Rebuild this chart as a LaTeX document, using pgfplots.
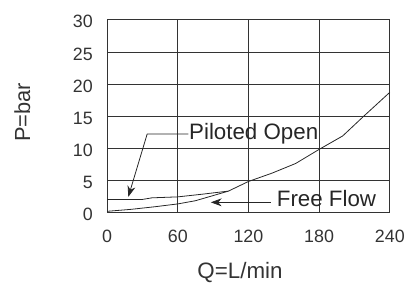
\documentclass[border=0pt]{standalone}
\usepackage{fontspec}
\setmainfont{Liberation Sans}
\usepackage{pgfplots}
\pgfplotsset{compat=1.18}
\usetikzlibrary{arrows.meta}
\begin{document}
\begin{tikzpicture}
\begin{axis}[
  scale only axis,
  width=285pt, height=194pt,
  at={(0pt,0pt)}, anchor=south west,
  xmin=0, xmax=240, ymin=0, ymax=30,
  xtick={0,60,120,180,240}, ytick={0,5,10,15,20,25,30},
  grid=major,
  major grid style={black!80, line width=0.7pt},
  axis line style={black!80, line width=0.8pt},
  tick style={draw=none},
  /pgf/number format/assume math mode=true,
  ticklabel style={font=\fontsize{18}{20}\selectfont, text=black!80},
  xticklabel style={anchor=center, yshift=-24pt},
  yticklabel style={anchor=east, xshift=-11pt, yshift=-2pt},
  xlabel={Q=L/min}, ylabel={P=bar},
  xlabel style={at={(axis description cs:0.47,-0.314)}, anchor=center,
    font=\fontsize{22.5}{24}\selectfont, text=black!80},
  ylabel style={at={(axis description cs:-0.3,0.52)}, anchor=center, rotate=0,
    font=\fontsize{22}{24}\selectfont, text=black!80},
  clip=false,
]
% Free Flow
\addplot[black!85, line width=0.8pt] coordinates {
 (0,0.15) (20,0.45) (40,0.85) (60,1.3) (75,1.8) (90,2.6) (103,3.3)
 (120,4.8) (140,6.1) (160,7.6) (180,9.8) (200,11.9) (218,15.0) (240,18.7)};
% Piloted Open
\addplot[black!85, line width=0.8pt] coordinates {
 (0,2.0) (30,2.0) (38,2.25) (60,2.4) (80,2.8) (103,3.3)};
% annotations
\draw[black!85, line width=0.8pt, -{Stealth[length=11pt,width=8pt]}]
  (axis cs:69,12.2) -- (axis cs:34,12.2) -- (axis cs:18,2.4);
\node[anchor=west, inner sep=0pt, font=\fontsize{22.5}{24}\selectfont, text=black!85]
  at (axis cs:69.5,12.2) {Piloted Open};
\draw[black!85, line width=0.8pt, -{Stealth[length=11pt,width=8pt]}]
  (axis cs:139,1.55) -- (axis cs:88,1.55);
\node[anchor=west, inner sep=0pt, font=\fontsize{22.5}{24}\selectfont, text=black!85]
  at (axis cs:144,2.2) {Free Flow};
\end{axis}
\path[use as bounding box] (-108pt,-74pt) rectangle (300pt,214pt);
\end{tikzpicture}
\end{document}
